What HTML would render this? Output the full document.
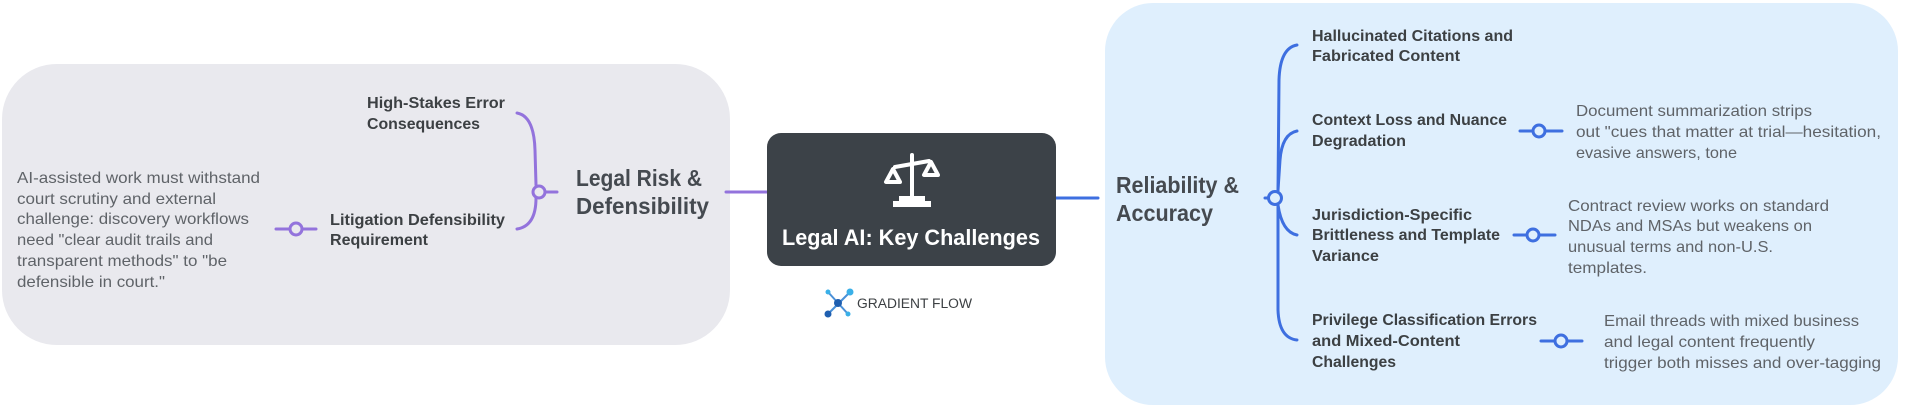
<!DOCTYPE html>
<html><head><meta charset="utf-8"><style>
html,body{margin:0;padding:0;background:#fff;width:1913px;height:412px;overflow:hidden}
svg{display:block}
.b{font-family:"Liberation Sans",sans-serif;font-weight:bold;fill:#3c4043;font-size:15.5px}
.d{font-family:"Liberation Sans",sans-serif;fill:#5f6368;font-size:16px}
.h{font-family:"Liberation Sans",sans-serif;font-weight:bold;fill:#454a50;font-size:23px}
</style></head><body>
<svg width="1913" height="412" viewBox="0 0 1913 412" xmlns="http://www.w3.org/2000/svg">
<rect x="2" y="64" width="728" height="281" rx="55" fill="#e9e9ee"/>
<rect x="1105" y="3" width="793" height="402" rx="48" fill="#dfeffd"/>
<g stroke="#9373dc" stroke-width="3" fill="none" stroke-linecap="round">
<line x1="726" y1="192" x2="768" y2="192"/>
<path d="M517 113 Q534 116 535 150 L536 185"/>
<path d="M536 198 Q536 226 517 229"/>
<line x1="545" y1="192" x2="557" y2="192"/>
<circle cx="539" cy="192" r="6" fill="#e9e9ee"/>
<line x1="276" y1="229" x2="316" y2="229"/>
<circle cx="296" cy="229" r="6" fill="#e9e9ee"/>
</g>
<g stroke="#3e6fe0" stroke-width="3" fill="none" stroke-linecap="round">
<line x1="1055" y1="198" x2="1098" y2="198"/>
<line x1="1265" y1="198" x2="1275" y2="198"/>
<path d="M1297 45 Q1280 48 1279 80 L1278 192"/>
<path d="M1297 131 Q1282 134 1280 160 L1278 190"/>
<path d="M1278 205 Q1282 232 1297 235"/>
<path d="M1278 205 L1278 310 Q1279 338 1297 340"/>
<circle cx="1275" cy="198" r="6.5" fill="#dfeffd"/>
<line x1="1520" y1="131" x2="1562" y2="131"/>
<circle cx="1539" cy="131" r="6" fill="#dfeffd"/>
<line x1="1514" y1="235" x2="1555" y2="235"/>
<circle cx="1533" cy="235" r="6" fill="#dfeffd"/>
<line x1="1541" y1="341" x2="1582" y2="341"/>
<circle cx="1561" cy="341" r="6" fill="#dfeffd"/>
</g>
<rect x="767" y="133" width="289" height="133" rx="14" fill="#3c4248"/>
<g stroke="#fff" stroke-width="4" fill="none" stroke-linecap="round" stroke-linejoin="round">
<line x1="912" y1="155" x2="912" y2="198"/>
<line x1="895" y1="167" x2="929" y2="161"/>
<path d="M893 169 L886 182 L900 182 Z"/>
<path d="M931 162 L924 175 L938 175 Z"/>
</g>
<rect x="899" y="196" width="26" height="5" fill="#fff"/>
<rect x="893" y="201" width="38" height="6" fill="#fff"/>
<text x="911" y="245" text-anchor="middle" textLength="258" lengthAdjust="spacingAndGlyphs" font-family="Liberation Sans,sans-serif" font-weight="bold" font-size="22" fill="#fff">Legal AI: Key Challenges</text>
<g stroke="#4a90d8" stroke-width="2">
<line x1="828" y1="292" x2="848" y2="314"/><line x1="850" y1="292" x2="828" y2="314"/>
</g>
<circle cx="838" cy="303" r="4" fill="#1f5fb0"/>
<circle cx="850" cy="292" r="3.5" fill="#3ab0e8"/><circle cx="828" cy="292" r="2.5" fill="#3ab0e8"/>
<circle cx="828" cy="314" r="3.5" fill="#1f5fb0"/><circle cx="848" cy="314" r="2.5" fill="#3ab0e8"/>
<text x="857" y="308" textLength="115" lengthAdjust="spacingAndGlyphs" font-family="Liberation Sans,sans-serif" font-size="13.5" fill="#3c4043">GRADIENT FLOW</text>
<g lengthAdjust="spacingAndGlyphs">
<text class="h" x="576" y="186" textLength="126" lengthAdjust="spacingAndGlyphs">Legal Risk &amp;</text>
<text class="h" x="576" y="214" textLength="133" lengthAdjust="spacingAndGlyphs">Defensibility</text>
<text class="b" x="367" y="108" textLength="138" lengthAdjust="spacingAndGlyphs">High-Stakes Error</text>
<text class="b" x="367" y="129" textLength="113" lengthAdjust="spacingAndGlyphs">Consequences</text>
<text class="b" x="330" y="225" textLength="175" lengthAdjust="spacingAndGlyphs">Litigation Defensibility</text>
<text class="b" x="330" y="245" textLength="98" lengthAdjust="spacingAndGlyphs">Requirement</text>
<text class="d" x="17" y="183" textLength="243" lengthAdjust="spacingAndGlyphs">AI-assisted work must withstand</text>
<text class="d" x="17" y="204" textLength="199" lengthAdjust="spacingAndGlyphs">court scrutiny and external</text>
<text class="d" x="17" y="224" textLength="232" lengthAdjust="spacingAndGlyphs">challenge: discovery workflows</text>
<text class="d" x="17" y="245" textLength="196" lengthAdjust="spacingAndGlyphs">need "clear audit trails and</text>
<text class="d" x="17" y="266" textLength="210" lengthAdjust="spacingAndGlyphs">transparent methods" to "be</text>
<text class="d" x="17" y="287" textLength="148" lengthAdjust="spacingAndGlyphs">defensible in court."</text>
<text class="h" x="1116" y="193" textLength="123" lengthAdjust="spacingAndGlyphs">Reliability &amp;</text>
<text class="h" x="1116" y="221" textLength="97" lengthAdjust="spacingAndGlyphs">Accuracy</text>
<text class="b" x="1312" y="41" textLength="201" lengthAdjust="spacingAndGlyphs">Hallucinated Citations and</text>
<text class="b" x="1312" y="61" textLength="148" lengthAdjust="spacingAndGlyphs">Fabricated Content</text>
<text class="b" x="1312" y="125" textLength="195" lengthAdjust="spacingAndGlyphs">Context Loss and Nuance</text>
<text class="b" x="1312" y="146" textLength="94" lengthAdjust="spacingAndGlyphs">Degradation</text>
<text class="b" x="1312" y="220" textLength="160" lengthAdjust="spacingAndGlyphs">Jurisdiction-Specific</text>
<text class="b" x="1312" y="240" textLength="188" lengthAdjust="spacingAndGlyphs">Brittleness and Template</text>
<text class="b" x="1312" y="261" textLength="67" lengthAdjust="spacingAndGlyphs">Variance</text>
<text class="b" x="1312" y="325" textLength="225" lengthAdjust="spacingAndGlyphs">Privilege Classification Errors</text>
<text class="b" x="1312" y="346" textLength="148" lengthAdjust="spacingAndGlyphs">and Mixed-Content</text>
<text class="b" x="1312" y="367" textLength="84" lengthAdjust="spacingAndGlyphs">Challenges</text>
<text class="d" x="1576" y="116" textLength="236" lengthAdjust="spacingAndGlyphs">Document summarization strips</text>
<text class="d" x="1576" y="137" textLength="305" lengthAdjust="spacingAndGlyphs">out "cues that matter at trial—hesitation,</text>
<text class="d" x="1576" y="158" textLength="161" lengthAdjust="spacingAndGlyphs">evasive answers, tone</text>
<text class="d" x="1568" y="211" textLength="261" lengthAdjust="spacingAndGlyphs">Contract review works on standard</text>
<text class="d" x="1568" y="231" textLength="244" lengthAdjust="spacingAndGlyphs">NDAs and MSAs but weakens on</text>
<text class="d" x="1568" y="252" textLength="205" lengthAdjust="spacingAndGlyphs">unusual terms and non-U.S.</text>
<text class="d" x="1568" y="273" textLength="79" lengthAdjust="spacingAndGlyphs">templates.</text>
<text class="d" x="1604" y="326" textLength="255" lengthAdjust="spacingAndGlyphs">Email threads with mixed business</text>
<text class="d" x="1604" y="347" textLength="211" lengthAdjust="spacingAndGlyphs">and legal content frequently</text>
<text class="d" x="1604" y="368" textLength="277" lengthAdjust="spacingAndGlyphs">trigger both misses and over-tagging</text>
</g>
</svg>
</body></html>
